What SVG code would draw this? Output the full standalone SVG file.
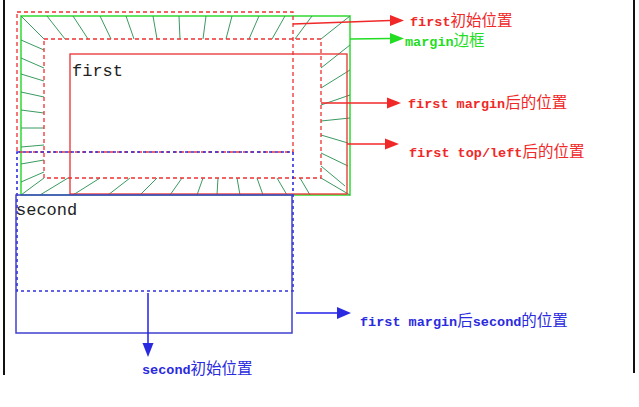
<svg xmlns="http://www.w3.org/2000/svg" width="639" height="407" viewBox="0 0 639 407">
<style>
.bg{fill:#fff}
.frame{stroke:#111;stroke-width:2;fill:none}
.rdash{fill:none;stroke:#f03030;stroke-width:1.3;stroke-dasharray:4 3}
.rsolid{fill:none;stroke:#e83030;stroke-width:1.3}
.green{fill:none;stroke:#3ddc3d;stroke-width:1.6}
.hatch{stroke:#3a9a60;stroke-width:1}
.bdash{fill:none;stroke:#3030e0;stroke-width:1.6;stroke-dasharray:3 3}
.bsolid{fill:none;stroke:#4040d0;stroke-width:1.5}
.big{font-family:"Liberation Mono",monospace;font-size:17px;fill:#222}
.lab{font-family:"Liberation Mono","Noto Sans CJK SC",monospace;font-size:13.5px;font-weight:bold}
.cjk{font-family:"Noto Sans CJK SC",sans-serif;font-size:15.5px;font-weight:normal}
.red{fill:#f02828}
.grn{fill:#22dd22}
.blu{fill:#2a2ae0}
.cr{stroke:#f02828;stroke-width:1.5;fill:none}
.cg{stroke:#22dd22;stroke-width:1.5;fill:none}
.cb{stroke:#2020e8;stroke-width:1.5;fill:none}
</style>
<rect class="bg" x="0" y="0" width="639" height="407"/>
<line class="frame" x1="4" y1="0" x2="4" y2="375"/>
<line class="frame" x1="634" y1="0" x2="634" y2="373"/>

<g id="margin-border">
<rect class="green" x="21" y="16" width="329" height="179"/>
<g class="hatch">
<line x1="21" y1="16" x2="44" y2="39"/>
<line x1="350" y1="16" x2="321" y2="39"/>
<line x1="21" y1="195" x2="44" y2="178"/>
<line x1="350" y1="195" x2="321" y2="178"/>
<line x1="47" y1="16" x2="65" y2="39"/>
<line x1="73" y1="16" x2="88" y2="39"/>
<line x1="100" y1="16" x2="111" y2="39"/>
<line x1="126" y1="16" x2="134" y2="39"/>
<line x1="153" y1="16" x2="157" y2="39"/>
<line x1="179" y1="16" x2="180" y2="39"/>
<line x1="206" y1="16" x2="203" y2="39"/>
<line x1="232" y1="16" x2="226" y2="39"/>
<line x1="259" y1="16" x2="249" y2="39"/>
<line x1="285" y1="16" x2="272" y2="39"/>
<line x1="312" y1="16" x2="295" y2="39"/>
<line x1="40" y1="195" x2="68" y2="178"/>
<line x1="73" y1="195" x2="100" y2="178"/>
<line x1="108" y1="195" x2="130" y2="178"/>
<line x1="140" y1="195" x2="157" y2="178"/>
<line x1="170" y1="195" x2="182" y2="178"/>
<line x1="197" y1="195" x2="203" y2="178"/>
<line x1="217" y1="195" x2="218" y2="178"/>
<line x1="240" y1="195" x2="237" y2="178"/>
<line x1="263" y1="195" x2="257" y2="178"/>
<line x1="287" y1="195" x2="277" y2="178"/>
<line x1="310" y1="195" x2="300" y2="178"/>
<line x1="21" y1="40" x2="44" y2="50"/>
<line x1="21" y1="58" x2="44" y2="68"/>
<line x1="21" y1="74" x2="44" y2="81"/>
<line x1="21" y1="92" x2="44" y2="97"/>
<line x1="21" y1="110" x2="44" y2="113"/>
<line x1="21" y1="128" x2="44" y2="128"/>
<line x1="21" y1="147" x2="44" y2="145"/>
<line x1="21" y1="164" x2="44" y2="160"/>
<line x1="21" y1="182" x2="44" y2="172"/>
<line x1="350" y1="45" x2="321" y2="68"/>
<line x1="350" y1="70" x2="321" y2="88"/>
<line x1="350" y1="95" x2="321" y2="105"/>
<line x1="350" y1="118" x2="321" y2="121"/>
<line x1="321" y1="135" x2="348" y2="143"/>
<line x1="321" y1="153" x2="348" y2="166"/>
<line x1="321" y1="166" x2="345" y2="186"/>
</g>
</g>

<g id="first-initial">
<rect class="rdash" x="17" y="12" width="276" height="140"/>
</g>
<g id="first-after-margin">
<rect class="rdash" x="44" y="39" width="277" height="139"/>
</g>
<g id="first-after-topleft">
<rect class="rsolid" x="70" y="54" width="277" height="140"/>
<text class="big" x="72" y="76">first</text>
</g>
<g id="second-initial">
<rect class="bdash" x="17" y="152" width="276" height="139"/>
</g>
<g id="second-after">
<rect class="bsolid" x="16" y="195" width="276" height="138"/>
<text class="big" x="16" y="215">second</text>
</g>

<g id="connectors">
<path class="cr" d="M293 24 L390 20.5"/>
<path class="red" d="M390 15 L404 20.5 L390 26 Z"/>
<path class="cg" d="M350 39 L390 38.5"/>
<path class="grn" d="M390 33 L404 38.5 L390 44 Z"/>
<path class="cr" d="M321 103 L387 103"/>
<path class="red" d="M387 97.5 L401 103 L387 108.5 Z"/>
<path class="cr" d="M347 144 L385 144"/>
<path class="red" d="M385 138.5 L399 144 L385 149.5 Z"/>
<path class="cb" d="M296 313 L337 313"/>
<path class="blu" d="M337 307 L351 313 L337 319 Z"/>
<path class="cb" d="M148 293 L148 343"/>
<path class="blu" d="M142.5 343 L148 357 L153.5 343 Z"/>
</g>

<g id="labels">
<text class="lab red" x="410" y="26">first<tspan class="cjk">初始位置</tspan></text>
<text class="lab grn" x="405" y="46">margin<tspan class="cjk">边框</tspan></text>
<text class="lab red" x="408" y="108">first margin<tspan class="cjk">后的位置</tspan></text>
<text class="lab red" x="409" y="157">first top/left<tspan class="cjk">后的位置</tspan></text>
<text class="lab blu" x="360" y="326">first margin<tspan class="cjk">后</tspan>second<tspan class="cjk">的位置</tspan></text>
<text class="lab blu" x="142" y="374">second<tspan class="cjk">初始位置</tspan></text>
</g>
</svg>
